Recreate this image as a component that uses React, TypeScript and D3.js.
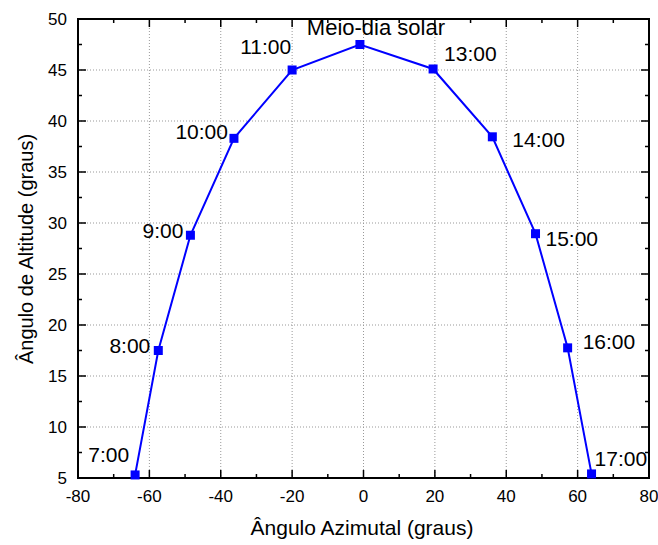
import React, { useEffect, useRef } from 'react';
import * as d3 from 'd3';

// sun path values
const hours = ['7:00', '8:00', '9:00', '10:00', '11:00', 'Meio-dia solar', '13:00', '14:00', '15:00', '16:00', '17:00'];
const azimuth = [-64.0, -57.5, -48.5, -36.3, -20.0, -1.0, 19.5, 36.1, 48.2, 57.2, 63.9];
const altitude = [5.3, 17.5, 28.8, 38.3, 45.0, 47.5, 45.1, 38.45, 28.95, 17.76, 5.4];

const xTicks = [-80, -60, -40, -20, 0, 20, 40, 60, 80];
const yTicks = [5, 10, 15, 20, 25, 30, 35, 40, 45, 50];

// where each label sits relative to its point: [dx, dy, anchor]
const labelPlacement: [number, number, string][] = [
  [-6, -13, 'end'],
  [-8, 2, 'end'],
  [-7, 3, 'end'],
  [-6, 1, 'end'],
  [-1, -16, 'end'],
  [16, -10, 'middle'],
  [11, -8, 'start'],
  [20, 10, 'start'],
  [10, 12, 'start'],
  [15, 1, 'start'],
  [3, -8, 'start'],
];

function App() {
  const ref = useRef<SVGSVGElement>(null);

  useEffect(() => {
    const svg = d3.select(ref.current);
    svg.selectAll('*').remove();

    const left = 78, right = 649, top = 19, bottom = 478;
    const font = 'Arial, "Liberation Sans", sans-serif';

    const x = d3.scaleLinear().domain([-80, 80]).range([left, right]);
    const y = d3.scaleLinear().domain([5, 50]).range([bottom, top]);

    const grid = svg.append('g')
      .attr('stroke', '#999')
      .attr('stroke-width', 1)
      .attr('stroke-dasharray', '1,2');

    xTicks.slice(1, -1).forEach(t => {
      grid.append('line')
        .attr('x1', x(t)).attr('x2', x(t))
        .attr('y1', top).attr('y2', bottom);
    });
    yTicks.slice(1, -1).forEach(t => {
      grid.append('line')
        .attr('x1', left).attr('x2', right)
        .attr('y1', y(t)).attr('y2', y(t));
    });

    // minor ticks halfway between major ones
    const xMinor = d3.range(-70, 80, 20);
    const yMinor = d3.range(7.5, 50, 5);

    const frame = svg.append('g').attr('stroke', '#000').attr('stroke-width', 1.5);
    xTicks.forEach(t => {
      frame.append('line').attr('x1', x(t)).attr('x2', x(t)).attr('y1', bottom).attr('y2', bottom - 8);
      frame.append('line').attr('x1', x(t)).attr('x2', x(t)).attr('y1', top).attr('y2', top + 8);
    });
    xMinor.forEach(t => {
      frame.append('line').attr('x1', x(t)).attr('x2', x(t)).attr('y1', bottom).attr('y2', bottom - 4);
      frame.append('line').attr('x1', x(t)).attr('x2', x(t)).attr('y1', top).attr('y2', top + 4);
    });
    yTicks.forEach(t => {
      frame.append('line').attr('x1', left).attr('x2', left + 8).attr('y1', y(t)).attr('y2', y(t));
      frame.append('line').attr('x1', right).attr('x2', right - 8).attr('y1', y(t)).attr('y2', y(t));
    });
    yMinor.forEach(t => {
      frame.append('line').attr('x1', left).attr('x2', left + 4).attr('y1', y(t)).attr('y2', y(t));
      frame.append('line').attr('x1', right).attr('x2', right - 4).attr('y1', y(t)).attr('y2', y(t));
    });
    frame.append('rect')
      .attr('x', left).attr('y', top)
      .attr('width', right - left).attr('height', bottom - top)
      .attr('fill', 'none')
      .attr('stroke-width', 2);

    svg.append('g').selectAll('text')
      .data(xTicks)
      .join('text')
      .attr('x', d => x(d))
      .attr('y', 502)
      .attr('text-anchor', 'middle')
      .attr('font-family', font)
      .attr('font-size', 17)
      .text(d => d);

    svg.append('g').selectAll('text')
      .data(yTicks)
      .join('text')
      .attr('x', 67)
      .attr('y', d => y(d) + 6)
      .attr('text-anchor', 'end')
      .attr('font-family', font)
      .attr('font-size', 17)
      .text(d => d);

    svg.append('text')
      .attr('x', 362)
      .attr('y', 535)
      .attr('text-anchor', 'middle')
      .attr('font-family', font)
      .attr('font-size', 21)
      .text('Ângulo Azimutal (graus)');

    svg.append('text')
      .attr('transform', 'translate(33, 249) rotate(-90)')
      .attr('text-anchor', 'middle')
      .attr('font-family', font)
      .attr('font-size', 20)
      .text('Ângulo de Altitude (graus)');

    const points = azimuth.map((a, i) => ({ a, h: altitude[i], label: hours[i] }));

    const line = d3.line<{ a: number; h: number }>()
      .x(d => x(d.a))
      .y(d => y(d.h));

    svg.append('path')
      .datum(points)
      .attr('d', line)
      .attr('fill', 'none')
      .attr('stroke', '#0000ff')
      .attr('stroke-width', 2);

    svg.append('g').selectAll('rect')
      .data(points)
      .join('rect')
      .attr('x', d => x(d.a) - 4.5)
      .attr('y', d => y(d.h) - 4.5)
      .attr('width', 9)
      .attr('height', 9)
      .attr('fill', '#0000ff');

    svg.append('g').selectAll('text')
      .data(points)
      .join('text')
      .attr('x', (d, i) => x(d.a) + labelPlacement[i][0])
      .attr('y', (d, i) => y(d.h) + labelPlacement[i][1])
      .attr('text-anchor', (d, i) => labelPlacement[i][2])
      .attr('font-family', font)
      .attr('font-size', (d, i) => (i === 5 ? 22 : 21))
      .text(d => d.label);
  }, []);

  return (
    <div style={{ position: 'absolute', left: 0, top: 0 }}>
      <svg ref={ref} width={658} height={545} style={{ display: 'block', background: '#fff' }} />
    </div>
  );
}

export default App;
